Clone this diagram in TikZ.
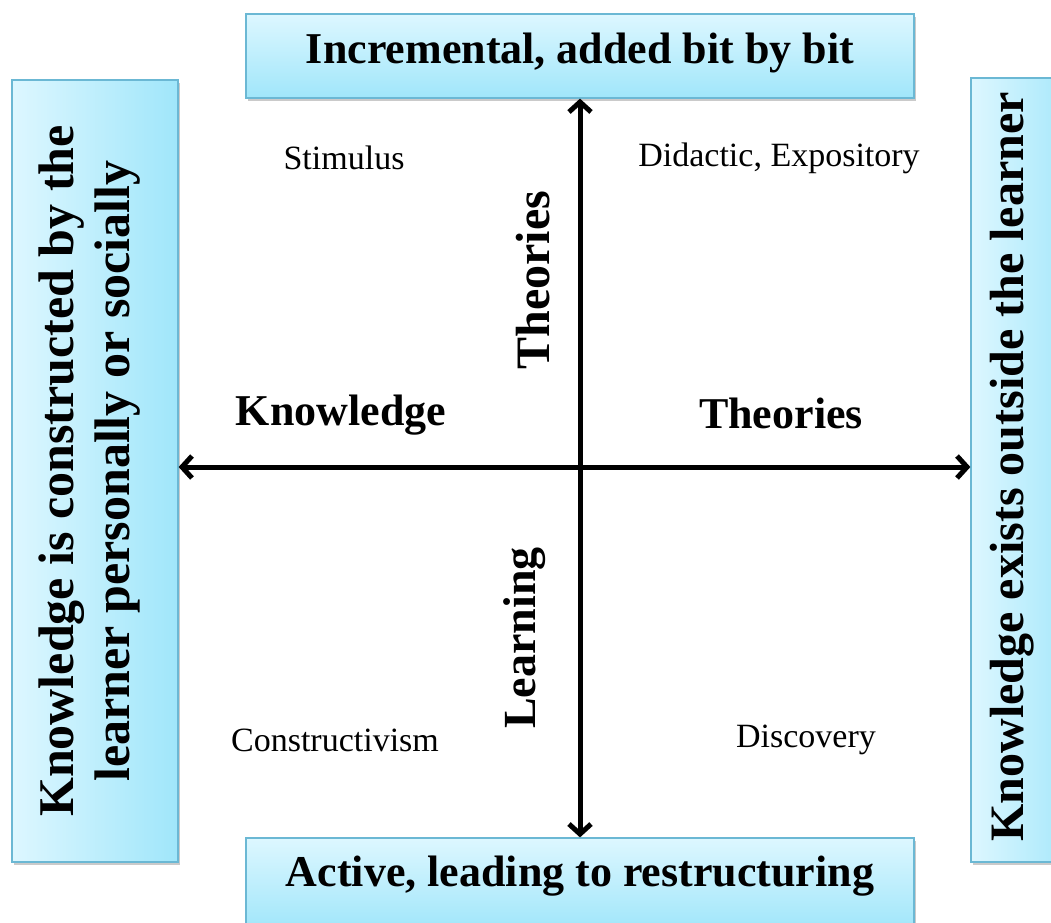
\documentclass[tikz,border=0pt]{standalone}
\usepackage{fontspec}
\setmainfont{Liberation Serif}
\usetikzlibrary{arrows.meta,shadows}
\definecolor{boxlight}{HTML}{DDF7FF}
\definecolor{boxdark}{HTML}{A0E6FA}
\definecolor{boxedge}{HTML}{6BB8D4}
\tikzset{
  panel/.style={draw=boxedge, line width=1.2pt, inner sep=0pt,
    drop shadow={shadow xshift=2pt, shadow yshift=-3pt, opacity=0.35, fill=black!60}},
  hpanel/.style={panel, top color=boxlight, bottom color=boxdark},
  vpanel/.style={panel, left color=boxlight, right color=boxdark},
  bigtxt/.style={font=\fontsize{44}{52}\selectfont\bfseries, inner sep=0pt, anchor=base},
  vtxt/.style={font=\fontsize{50}{56}\selectfont\bfseries, inner sep=0pt, anchor=base, rotate=90},
  smalltxt/.style={font=\fontsize{34}{40}\selectfont, inner sep=0pt},
  axis/.style={line width=5pt, {Straight Barb[length=10pt,width=22pt]}-{Straight Barb[length=10pt,width=22pt]}}
}
\begin{document}
\begin{tikzpicture}[x=1pt,y=-1pt]
\useasboundingbox (0,0) rectangle (1051,922);
% boxes
\node[hpanel, minimum width=668pt, minimum height=84pt] (top) at (580,56) {};
\node[hpanel, minimum width=668pt, minimum height=92pt] (bottom) at (580,884) {};
\node[vpanel, minimum width=166pt, minimum height=782pt] (left) at (95,471) {};
\node[vpanel, minimum width=110pt, minimum height=784pt] (right) at (1026,470) {};
% box texts
\node[bigtxt] (toptxt) at (580,63) {Incremental, added bit by bit};
\node[bigtxt] (bottxt) at (580,886) {Active, leading to restructuring};
\node[vtxt] (lefttxt1) at (73,471) {Knowledge is constructed by the};
\node[vtxt] (lefttxt2) at (129,471) {learner personally or socially};
\node[vtxt, font=\fontsize{48}{56}\selectfont\bfseries] (righttxt) at (1023,467) {Knowledge exists outside the learner};
% axes
\draw[axis] (left.east |- 0,467) coordinate (hl) -- (right.west |- 0,467) coordinate (hr);
\draw[axis] (top.south -| 580,0) coordinate (vt) -- (bottom.north -| 580,0) coordinate (vb);
% labels
\node[smalltxt] (stim) at (344,158) {Stimulus};
\node[smalltxt] (did) at (779,158) {Didactic, Expository};
\node[smalltxt] (cons) at (335,740) {Constructivism};
\node[smalltxt] (disc) at (806,740) {Discovery};
\node[bigtxt] (know) at (341,425) {Knowledge};
\node[bigtxt] (theo) at (781,428) {Theories};
\node[vtxt, font=\fontsize{48}{56}\selectfont\bfseries] (vtheo) at (549,280) {Theories};
\node[vtxt, font=\fontsize{46}{56}\selectfont\bfseries] (learn) at (535,638) {Learning};
\end{tikzpicture}
\end{document}
